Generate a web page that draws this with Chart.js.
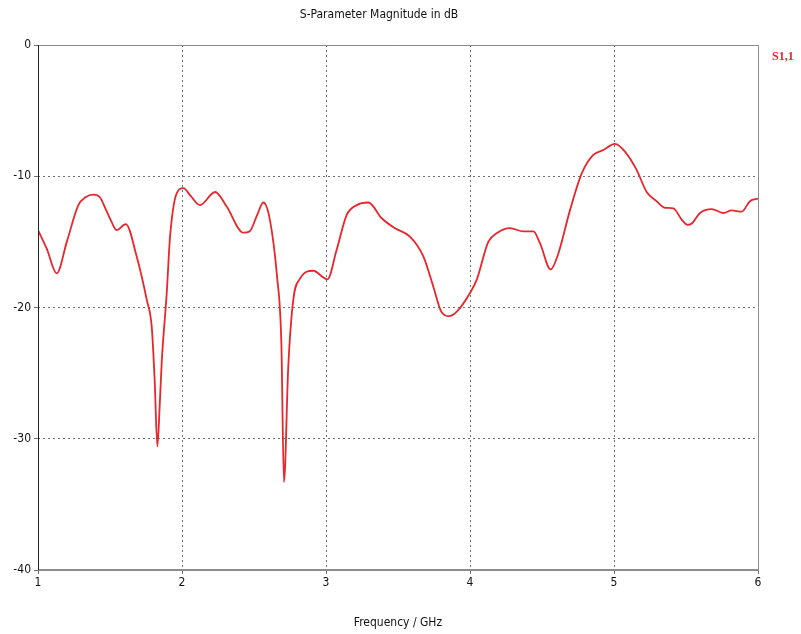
<!DOCTYPE html>
<html>
<head>
<meta charset="utf-8">
<script src="https://cdn.jsdelivr.net/npm/chart.js@4/dist/chart.umd.min.js"></script>
<style>
  body { margin: 0; background: #fff; }
  #wrap { width: 801px; height: 634px; position: relative; }
</style>
</head>
<body>
<div id="wrap"><canvas id="myChart" width="801" height="634"></canvas></div>
<script>
// S1,1 (frequency in GHz, magnitude in dB)
var freq = [1.0, 1.06, 1.13, 1.2, 1.28, 1.33, 1.384, 1.43, 1.47, 1.51, 1.546, 1.61, 1.685, 1.755, 1.79, 1.81,
  1.829, 1.845, 1.86, 1.894, 1.917, 1.963, 2.01, 2.06, 2.125, 2.23, 2.31, 2.426, 2.47, 2.52, 2.565, 2.61, 2.66,
  2.69, 2.708, 2.738, 2.773, 2.82, 2.91, 3.01, 3.074, 3.144, 3.213, 3.294, 3.387, 3.48, 3.583, 3.676,
  3.745, 3.80, 3.856, 3.91, 4.0, 4.046, 4.127, 4.185, 4.278, 4.37, 4.44, 4.486, 4.56, 4.613, 4.694,
  4.776, 4.856, 4.926, 5.007, 5.076, 5.157, 5.227, 5.296, 5.354, 5.412, 5.47, 5.51, 5.54, 5.597,
  5.678, 5.76, 5.817, 5.887, 5.944, 6.0];
var s11 = [-14.1, -15.5, -17.4, -15.0, -12.2, -11.6, -11.4, -11.6, -12.5, -13.46, -14.1, -13.64, -16.1, -19.4, -21.5, -25.5,
  -30.6, -27.5, -24.0, -18.9, -14.6, -11.3, -10.9, -11.5, -12.2, -11.2, -12.3, -14.3, -14.2, -13.0, -12.0, -13.3, -17.65,
  -22.7, -33.3, -24.5, -19.4, -17.8, -17.2, -17.85, -15.6, -12.95, -12.2, -12.0, -13.2, -13.97, -14.6, -16.1,
  -18.4, -20.3, -20.65, -20.3, -18.9, -17.9, -15.0, -14.35, -13.95, -14.2, -14.2, -15.1, -17.1, -15.9, -12.6,
  -9.78, -8.38, -8.0, -7.54, -8.13, -9.52, -11.2, -11.9, -12.4, -12.45, -13.3, -13.7, -13.6, -12.8,
  -12.5, -12.8, -12.6, -12.7, -11.9, -11.7];

var xTicks = [1, 2, 3, 4, 5, 6];
var yTicks = [0, -10, -20, -30, -40];
var seriesName = "S1,1";

var points = [];
for (var i = 0; i < freq.length; i++) {
  points.push({ x: freq[i], y: s11[i] });
}

var fontFam = "'Liberation Sans Narrow', 'DejaVu Sans Condensed', Arial, sans-serif";

// frame round the plot + series label on the right
var framePlugin = {
  id: "frame",
  afterDraw: function (chart) {
    var ctx = chart.ctx, a = chart.chartArea;
    ctx.save();
    ctx.strokeStyle = "#8c8c8c";
    ctx.lineWidth = 1;
    ctx.beginPath();
    ctx.moveTo(a.left, a.top + 0.5); ctx.lineTo(a.right + 0.5, a.top + 0.5);
    ctx.lineTo(a.right + 0.5, a.bottom);
    ctx.stroke();
    ctx.lineWidth = 2;
    ctx.beginPath();
    ctx.moveTo(a.left, a.bottom); ctx.lineTo(a.right + 1, a.bottom);
    ctx.stroke();
    ctx.strokeStyle = "#222";
    ctx.lineWidth = 1;
    ctx.beginPath();
    ctx.moveTo(a.left + 0.5, a.top); ctx.lineTo(a.left + 0.5, a.bottom);
    ctx.stroke();
    ctx.fillStyle = "#e8262b";
    ctx.font = "bold 12px 'Liberation Serif', 'DejaVu Serif', serif";
    ctx.textAlign = "left";
    ctx.textBaseline = "middle";
    ctx.fillText(seriesName, a.right + 14, a.top + 12);
    ctx.restore();
  }
};

var ctx = document.getElementById("myChart");

var chart = new Chart(ctx, {
  type: "line",
  data: {
    datasets: [{
      label: seriesName,
      data: points,
      borderColor: "#e8262b",
      borderWidth: 1.8,
      pointRadius: 0,
      fill: false,
      cubicInterpolationMode: "monotone"
    }]
  },
  options: {
    responsive: false,
    animation: false,
    layout: { padding: { left: 0, right: 43, top: 0, bottom: 0 } },
    plugins: {
      legend: { display: false },
      tooltip: { enabled: false },
      title: {
        display: true,
        text: "S-Parameter Magnitude in dB",
        color: "#111",
        font: { family: fontFam, size: 12, weight: "normal" },
        padding: { top: 8, bottom: 22.6 }
      }
    },
    scales: {
      x: {
        type: "linear",
        min: 1, max: 6,
        afterBuildTicks: function (scale) {
          scale.ticks = xTicks.map(function (v) { return { value: v }; });
        },
        afterFit: function (scale) { scale.height = 64; },
        grid: {
          drawTicks: true,
          tickLength: 4,
          color: function (c) { return (c.tick && (c.tick.value === 1 || c.tick.value === 6)) ? "rgba(0,0,0,0)" : "#707070"; },
          tickColor: "#707070"
        },
        border: { display: false, dash: [2, 3] },
        ticks: {
          color: "#111",
          padding: 2,
          font: { family: fontFam, size: 12 }
        },
        title: {
          display: true,
          text: "Frequency / GHz",
          color: "#111",
          font: { family: fontFam, size: 12 },
          padding: { top: 0, bottom: 4 }
        }
      },
      y: {
        type: "linear",
        min: -40, max: 0,
        afterBuildTicks: function (scale) {
          scale.ticks = yTicks.map(function (v) { return { value: v }; });
        },
        afterFit: function (scale) { scale.width = 38; },
        grid: {
          drawTicks: true,
          tickLength: 4,
          color: function (c) { return (c.tick && (c.tick.value === 0 || c.tick.value === -40)) ? "rgba(0,0,0,0)" : "#707070"; },
          tickColor: "#707070"
        },
        border: { display: false, dash: [2, 3] },
        ticks: {
          color: "#111",
          padding: 3,
          font: { family: fontFam, size: 12 }
        }
      }
    }
  },
  plugins: [framePlugin]
});
</script>
</body>
</html>
